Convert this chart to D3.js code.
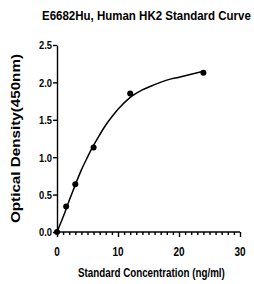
<!DOCTYPE html>
<html>
<head>
<meta charset="utf-8">
<script src="https://cdn.jsdelivr.net/npm/d3@7"></script>
<style>
  body { margin: 0; background: #fff; }
  svg { display: block; }
  text { font-family: "Liberation Sans", Arial, sans-serif; font-weight: bold; }
</style>
</head>
<body>
<div id="chart"></div>
<script>
// measured standards
const concentrations = [0, 1.5, 3, 6, 12, 24];
const odValues = [0, 0.34, 0.64, 1.13, 1.85, 2.13];

// fitted curve
const curveX = [0, 1, 2, 3, 4, 5, 6, 7, 8, 9, 10, 12, 14, 16, 18, 20, 22, 24];
const curveY = [0, 0.2, 0.42, 0.63, 0.83, 1.0, 1.16, 1.3, 1.43, 1.54, 1.64, 1.8, 1.9, 1.97, 2.03, 2.07, 2.11, 2.15];

const xTicks = [0, 10, 20, 30];
const yTicks = [0, 0.5, 1.0, 1.5, 2.0, 2.5];

const width = 254, height = 284;
const margin = { left: 57, right: 14, top: 45, bottom: 52 };

const svg = d3.select("#chart")
    .append("svg")
    .attr("width", width)
    .attr("height", height);

const x = d3.scaleLinear().domain([0, 30]).range([margin.left, width - margin.right]);
const y = d3.scaleLinear().domain([0, 2.5]).range([height - margin.bottom, margin.top]);

// squeeze text horizontally, the original uses a condensed face
function narrow(sel, factor) {
    sel.each(function () {
        const w = this.getComputedTextLength();
        d3.select(this).attr("textLength", w * factor).attr("lengthAdjust", "spacingAndGlyphs");
    });
}

// condensed text placed with a scale, so its box is the squeezed one
function squeezed(px, py, size, target, str) {
    const g = svg.append("g");
    const t = g.append("text").attr("font-size", size).text(str);
    const k = target / t.node().getComputedTextLength();
    g.attr("transform", `translate(${px},${py}) scale(${k},1)`);
    return t;
}

squeezed(42, 20, 13.5, 209, "E6682Hu, Human HK2 Standard Curve");
squeezed(78, 277, 12.5, 147, "Standard Concentration (ng/ml)");

// x axis with minor ticks
const xAxis = svg.append("g")
    .attr("transform", `translate(0,${y(0)})`);
xAxis.call(d3.axisBottom(x).tickValues(d3.range(0, 31, 1)).tickSize(3).tickFormat(""));
xAxis.call(g => g.selectAll(".tick").filter(d => d % 10 === 0).select("line").attr("y2", 5));
xAxis.selectAll(".domain").attr("d", `M${x(0)},0H${x(30)}`);
xAxis.selectAll("path, line").attr("stroke", "#000").attr("stroke-width", 1.4);
xAxis.selectAll(".label")
    .data(xTicks)
    .enter()
    .append("text")
    .attr("class", "label")
    .attr("x", d => x(d))
    .attr("y", 24)
    .attr("text-anchor", "middle")
    .attr("font-size", 12.5)
    .attr("fill", "#000")
    .text(d => d)
    .call(narrow, 0.8);

// y axis
const yAxis = svg.append("g")
    .attr("transform", `translate(${x(0)},0)`)
    .call(d3.axisLeft(y).tickValues(yTicks).tickSize(4).tickSizeOuter(0).tickFormat(d3.format(".1f")));
yAxis.selectAll("path, line").attr("stroke", "#000").attr("stroke-width", 1.4);
yAxis.selectAll("text")
    .attr("font-size", 11)
    .attr("fill", "#000")
    .attr("x", -5)
    .attr("dy", "0.36em")
    .call(narrow, 0.85);

svg.append("text")
    .attr("transform", `translate(20,${(y(0) + y(2.5)) / 2}) rotate(-90)`)
    .attr("text-anchor", "middle")
    .attr("font-size", 12.5)
    .attr("textLength", 169)
    .attr("lengthAdjust", "spacingAndGlyphs")
    .text("Optical Density(450nm)");

const line = d3.line()
    .x((d, i) => x(curveX[i]))
    .y(d => y(d))
    .curve(d3.curveMonotoneX);

svg.append("path")
    .datum(curveY)
    .attr("d", line)
    .attr("fill", "none")
    .attr("stroke", "#000")
    .attr("stroke-width", 1.5);

svg.selectAll(".pt")
    .data(odValues)
    .enter()
    .append("circle")
    .attr("class", "pt")
    .attr("cx", (d, i) => x(concentrations[i]))
    .attr("cy", d => y(d))
    .attr("r", 3)
    .attr("fill", "#000");
</script>
</body>
</html>
